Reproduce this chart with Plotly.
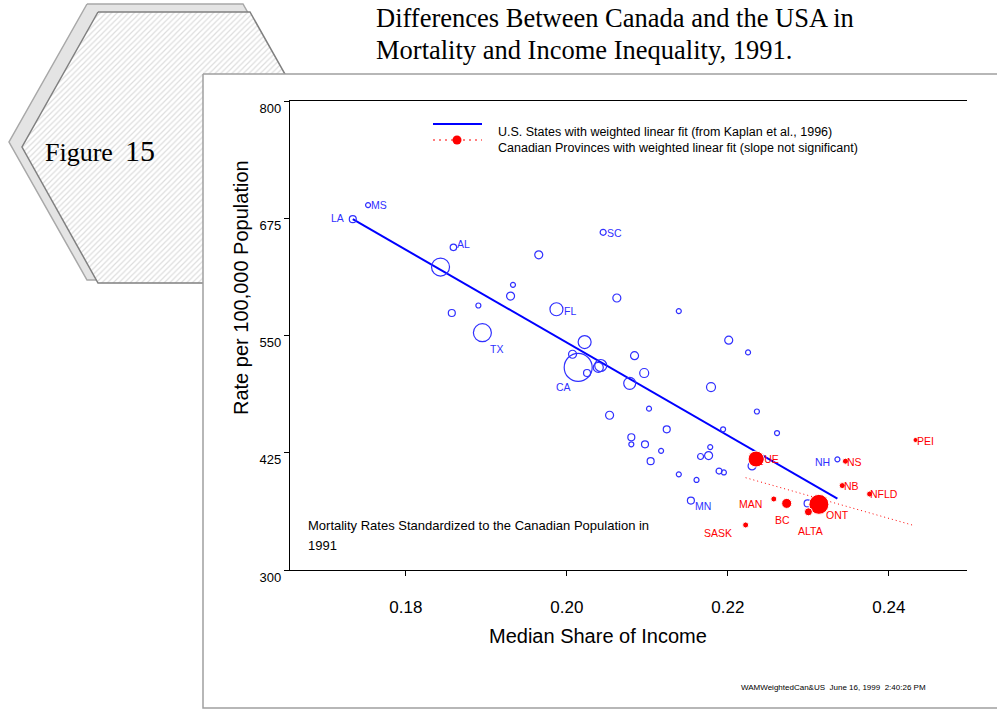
import plotly.graph_objects as go

# ---- data ----
# U.S. states: median share of income vs. mortality rate per 100,000
us_labels = ["LA", "MS", "AL", "", "", "", "", "", "", "TX",
             "FL", "SC", "", "", "", "CA", "", "", "", "",
             "", "", "", "", "", "", "", "", "", "",
             "", "", "", "", "", "", "", "", "", "",
             "", "", "", "", "", "NH", "MN", ""]
us_income = [0.1734, 0.1753, 0.1859, 0.1843, 0.1965, 0.1933, 0.1930, 0.1857, 0.1890, 0.1895,
             0.1987, 0.2045, 0.2062, 0.2022, 0.2007, 0.2014, 0.2025, 0.2042, 0.2039, 0.2078,
             0.2084, 0.2053, 0.2139, 0.2096, 0.2201, 0.2225, 0.2179, 0.2102, 0.2236, 0.2124,
             0.2194, 0.2261, 0.2080, 0.2080, 0.2097, 0.2117, 0.2104, 0.2178, 0.2176, 0.2166,
             0.2139, 0.2161, 0.2189, 0.2195, 0.2230, 0.2336, 0.2154, 0.2299]
us_rate = [674, 689, 644, 623, 636, 604, 592, 574, 582, 553,
           578, 660, 590, 543, 530, 516, 510, 518, 516, 499,
           528.5, 465, 576, 510, 545, 532, 495, 472, 469, 450,
           450, 446, 441.5, 434, 434, 427, 416, 431, 422, 421,
           402, 396, 405.5, 404, 411, 418, 374, 371]
# bubble size (population weight)
us_weight = [7, 5, 6.5, 18, 8, 5, 8, 7, 5, 18,
             13, 6, 8, 13, 8, 28, 7, 12, 10, 12,
             8, 8, 5, 9, 8, 5, 9, 5, 5, 7,
             5, 5, 7, 5, 7, 5, 7, 5, 8, 6,
             5, 5, 6, 5, 8, 5, 7, 7]

# Canadian provinces
can_labels = ["QUE", "NS", "NB", "NFLD", "PEI", "MAN", "BC", "ONT", "ALTA", "SASK"]
can_income = [0.2235, 0.2346, 0.2342, 0.2376, 0.2433, 0.2257, 0.2273, 0.2313, 0.2300, 0.2222]
can_rate = [418.3, 416, 390, 381, 438.6, 375.7, 371, 370, 362, 348]
can_weight = [16, 6, 6, 6, 5, 6, 10, 20, 8, 6]

# weighted linear fits (end points)
us_fit_income = [0.1734, 0.2336]
us_fit_rate = [674, 376]
can_fit_income = [0.2222, 0.2430]
can_fit_rate = [398.4, 347.7]

x_ticks = [0.18, 0.20, 0.22, 0.24]
y_ticks = [300, 425, 550, 675, 800]

# label offsets in pixels (right, up)
label_offsets = {
    "LA": (-15, 1), "MS": (11, 0), "AL": (10, 3), "SC": (11, -1), "FL": (14, -2),
    "TX": (14, -16), "CA": (-15, -20), "MN": (12, -5), "NH": (-15, -3),
    "QUE": (11, 0), "NS": (9, -1), "NB": (9, 0), "NFLD": (14, 0), "PEI": (10, -1),
    "MAN": (-23, -5), "BC": (-4, -17), "ONT": (19, -11), "ALTA": (2, -19), "SASK": (-28, -8),
}

W, H = 997, 709
SANS = "Liberation Sans, Arial, sans-serif"
SERIF = "Liberation Serif, Times New Roman, serif"
BLUE = "#3030ff"
RED = "#ff0000"

fig = go.Figure()

# background decoration lives on a full-page pixel axis (x/y), the chart on x2/y2
def poly(pts):
    xs = [p[0] for p in pts] + [pts[0][0]]
    ys = [p[1] for p in pts] + [pts[0][1]]
    return xs, ys

shadow_hex = [(87, 4), (243, 4), (321, 142), (243, 280), (87, 280), (9, 142)]
front_hex = [(98, 12), (250, 12), (326, 147), (250, 283), (98, 283), (22, 147)]
panel = [(203, 74), (1005, 74), (1005, 708), (203, 708)]

sx, sy = poly(shadow_hex)
fig.add_trace(go.Scatter(x=sx, y=sy, mode="lines", fill="toself", fillcolor="#e4e4e4",
                         line=dict(color="#a8a8a8", width=1.5), hoverinfo="skip",
                         showlegend=False, xaxis="x", yaxis="y"))
fx, fy = poly(front_hex)
fig.add_trace(go.Scatter(x=fx, y=fy, mode="lines", fill="toself",
                         fillpattern=dict(shape="/", fgcolor="#bcbcbc", bgcolor="white",
                                          size=4, solidity=0.3),
                         line=dict(color="#808080", width=1.5), hoverinfo="skip",
                         showlegend=False, xaxis="x", yaxis="y"))
px_, py_ = poly(panel)
fig.add_trace(go.Scatter(x=px_, y=py_, mode="lines", fill="toself", fillcolor="white",
                         line=dict(color="#a0a0a0", width=1.5), hoverinfo="skip",
                         showlegend=False, xaxis="x", yaxis="y"))

# chart
fig.add_trace(go.Scatter(x=us_fit_income, y=us_fit_rate, mode="lines",
                         line=dict(color="#0000ff", width=2), showlegend=False,
                         xaxis="x2", yaxis="y2"))
fig.add_trace(go.Scatter(x=can_fit_income, y=can_fit_rate, mode="lines",
                         line=dict(color=RED, width=1, dash="1px,3px"), showlegend=False,
                         xaxis="x2", yaxis="y2"))
fig.add_trace(go.Scatter(x=us_income, y=us_rate, mode="markers", text=us_labels,
                         marker=dict(symbol="circle-open", size=us_weight, color=BLUE,
                                     opacity=1, line=dict(width=1.2, color=BLUE)),
                         showlegend=False, xaxis="x2", yaxis="y2"))
fig.add_trace(go.Scatter(x=can_income, y=can_rate, mode="markers", text=can_labels,
                         marker=dict(symbol="circle", size=can_weight, color=RED, opacity=1),
                         showlegend=False, xaxis="x2", yaxis="y2"))

annotations = []
for lab, xv, yv in zip(us_labels, us_income, us_rate):
    if lab:
        dx, dy = label_offsets[lab]
        annotations.append(dict(x=xv, y=yv, xref="x2", yref="y2", text=lab, showarrow=False,
                                xshift=dx, yshift=dy, font=dict(family=SANS, size=10.5, color=BLUE)))
for lab, xv, yv in zip(can_labels, can_income, can_rate):
    dx, dy = label_offsets[lab]
    annotations.append(dict(x=xv, y=yv, xref="x2", yref="y2", text=lab, showarrow=False,
                            xshift=dx, yshift=dy, font=dict(family=SANS, size=10.5, color=RED)))

def pix_text(x, y, text, size, family=SANS, xanchor="left", color="black", angle=0):
    annotations.append(dict(x=x, y=y, xref="x", yref="y", text=text, showarrow=False,
                            xanchor=xanchor, yanchor="middle", textangle=angle,
                            font=dict(family=family, size=size, color=color)))

pix_text(374, 18, "Differences Between Canada and the USA in", 26.5, SERIF)
pix_text(374, 50, "Mortality and Income Inequality, 1991.", 26.5, SERIF)
pix_text(43, 152, "Figure", 26, SERIF)
pix_text(123, 150, "15", 30, SERIF)
pix_text(241, 288, "Rate per 100,000 Population", 20, xanchor="center", angle=-90)
pix_text(598, 636, "Median Share of Income", 20, xanchor="center")
pix_text(496, 132, "U.S. States with weighted linear fit (from Kaplan et al., 1996)", 12.5)
pix_text(496, 148, "Canadian Provinces with weighted linear fit (slope not significant)", 12.5)
pix_text(306, 525, "Mortality Rates Standardized to the Canadian Population in", 13)
pix_text(306, 545, "1991", 13)
pix_text(739, 687, "WAMWeightedCan&US&nbsp;&nbsp;June 16, 1999&nbsp;&nbsp;2:40:26 PM", 8)

shapes = [
    dict(type="line", xref="x", yref="y", x0=433, x1=482, y0=124, y1=124,
         line=dict(color="#0000ff", width=2), layer="above"),
    dict(type="line", xref="x", yref="y", x0=433, x1=482, y0=140, y1=140,
         line=dict(color=RED, width=1.2, dash="2px,4px"), layer="above"),
    dict(type="circle", xref="x", yref="y", x0=452.5, x1=461.5, y0=135.5, y1=144.5,
         fillcolor=RED, line=dict(color=RED, width=0), layer="above"),
]

fig.update_layout(
    width=W, height=H,
    margin=dict(l=0, r=0, t=0, b=0, pad=0, autoexpand=False),
    paper_bgcolor="white",
    plot_bgcolor="rgba(0,0,0,0)",
    showlegend=False,
    annotations=annotations,
    shapes=shapes,
    xaxis=dict(domain=[0, 1], range=[0, W], visible=False, fixedrange=True, automargin=False),
    yaxis=dict(domain=[0, 1], range=[H, 0], visible=False, fixedrange=True, automargin=False),
    xaxis2=dict(domain=[290 / W, 967 / W], anchor="y2", range=[0.1656, 0.2497],
                tickvals=x_ticks, ticktext=["%.2f" % v for v in x_ticks],
                showgrid=False, zeroline=False, showline=True, mirror=True,
                linecolor="black", linewidth=1.2, ticks="outside", ticklen=5,
                tickcolor="black", ticklabelstandoff=16, automargin=False,
                tickfont=dict(family=SANS, size=17, color="black")),
    yaxis2=dict(domain=[1 - 570 / H, 1 - 101 / H], anchor="x2", range=[300, 800],
                tickvals=y_ticks, showgrid=False, zeroline=False, showline=True,
                linecolor="black", linewidth=1.2, ticks="outside", ticklen=5,
                tickcolor="black", ticklabelshift=7, automargin=False,
                tickfont=dict(family=SANS, size=13, color="black")),
)

fig.write_html("out.html", config={"displayModeBar": False},
               post_script="document.body.style.margin='0px';")
